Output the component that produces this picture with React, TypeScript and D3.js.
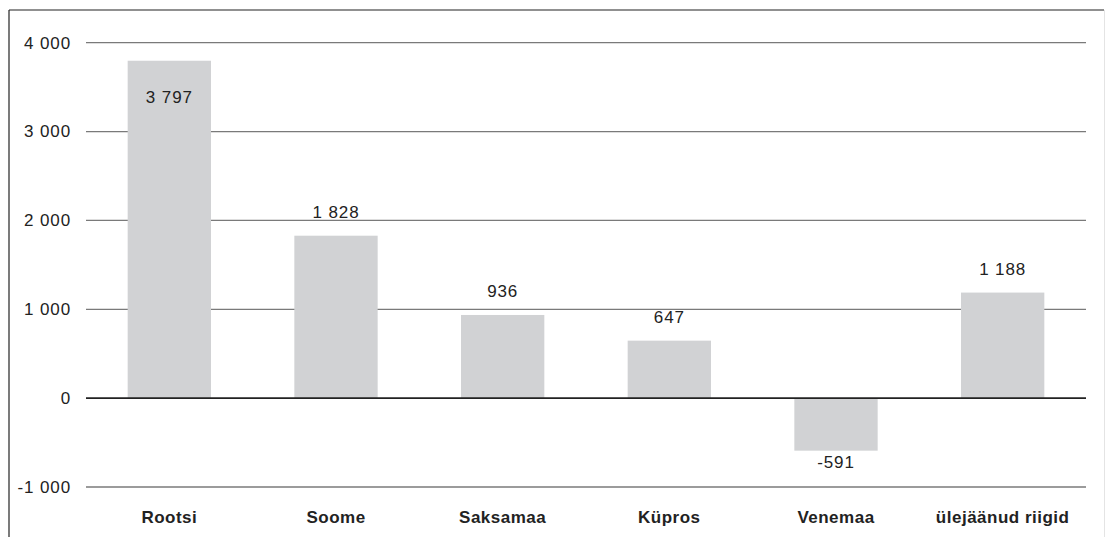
import React from "react";
import * as d3 from "d3";

const categories = ["Rootsi", "Soome", "Saksamaa", "Küpros", "Venemaa", "ülejäänud riigid"];
const values = [3797, 1828, 936, 647, -591, 1188];
const valueLabels = ["3 797", "1 828", "936", "647", "-591", "1 188"];
const tickValues = [-1000, 0, 1000, 2000, 3000, 4000];
const tickLabels = ["-1 000", "0", "1 000", "2 000", "3 000", "4 000"];

const W = 1105;
const H = 537;
const FONT = "'Liberation Sans', Arial, Helvetica, sans-serif";

export default function App() {
  const x = d3.scaleBand<string>().domain(categories).range([86, 1086]).paddingInner(0.5).paddingOuter(0.25);
  const y = d3.scaleLinear().domain([-1000, 4000]).range([487, 42.7]);
  const y0 = y(0);

  return (
    <svg width={W} height={H} style={{ position: "absolute", left: 0, top: 0, background: "#fff" }} fontFamily={FONT}>
      <rect x={0} y={0} width={W} height={H} fill="#fff" />
      {/* frame */}
      <line x1={9} x2={1104} y1={10} y2={10} stroke="#222" strokeWidth={1.2} />
      <line x1={9} x2={9} y1={10} y2={H} stroke="#222" strokeWidth={1.2} />
      <line x1={1104.5} x2={1104.5} y1={10} y2={H} stroke="#e4e4e4" strokeWidth={1} />
      {/* gridlines */}
      {tickValues.map((t, i) =>
        t === 0 ? null : (
          <line key={"g" + i} x1={86} x2={1086} y1={y(t)} y2={y(t)} stroke="#7a7a7a" strokeWidth={1.3} />
        )
      )}
      {/* bars */}
      {categories.map((c, i) => {
        const v = values[i];
        const top = v >= 0 ? y(v) : y0;
        const h = Math.abs(y(v) - y0);
        return <rect key={"b" + i} x={x(c)} y={top} width={x.bandwidth()} height={h} fill="#d1d2d4" />;
      })}
      {/* zero line */}
      <line x1={86} x2={1086} y1={y0} y2={y0} stroke="#222" strokeWidth={1.6} />
      {/* tick labels */}
      {tickValues.map((t, i) => (
        <text key={"t" + i} x={71} y={y(t) + 5.8} textAnchor="end" fontSize={17} letterSpacing={0.9} fill="#222">
          {tickLabels[i]}
        </text>
      ))}
      {/* value labels */}
      {categories.map((c, i) => {
        const v = values[i];
        const cx = (x(c) as number) + x.bandwidth() / 2;
        let ly: number;
        if (v < 0) ly = y(v) + 17;
        else if (v > 3500) ly = y(v) + 42;
        else ly = y(v) - 18;
        return (
          <text key={"v" + i} x={cx} y={ly} textAnchor="middle" fontSize={17} letterSpacing={0.9} fill="#222">
            {valueLabels[i]}
          </text>
        );
      })}
      {/* category labels */}
      {categories.map((c, i) => (
        <text
          key={"c" + i}
          x={(x(c) as number) + x.bandwidth() / 2}
          y={523}
          textAnchor="middle"
          fontSize={17}
          fontWeight="bold"
          letterSpacing={0.5}
          fill="#222"
        >
          {c}
        </text>
      ))}
    </svg>
  );
}
